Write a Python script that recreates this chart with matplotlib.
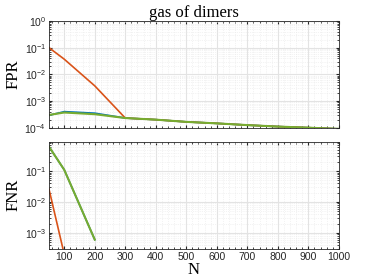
import numpy as np
import matplotlib.pyplot as plt
from matplotlib.ticker import MultipleLocator, LogLocator, NullFormatter

N = [50, 100, 200, 300, 400, 500, 600, 700, 800, 900, 1000]

# false positive rate
fpr_blue = [2.9e-4, 4.0e-4, 3.5e-4, 2.3e-4, 2.0e-4, 1.65e-4, 1.45e-4, 1.25e-4, 1.1e-4, 1.0e-4, 9e-5]
fpr_orange = [1.0e-1, 3.7e-2, 3.7e-3, 2.3e-4, 2.0e-4, 1.65e-4, 1.45e-4, 1.25e-4, 1.1e-4, 1.0e-4, 9e-5]
fpr_green = [3.0e-4, 3.7e-4, 3.2e-4, 2.3e-4, 2.0e-4, 1.65e-4, 1.45e-4, 1.25e-4, 1.1e-4, 1.0e-4, 9e-5]

# false negative rate (zeros are not drawn on a log axis)
fnr_blue = [0.62, 0.11, 6e-4, np.nan, np.nan, np.nan, np.nan, np.nan, np.nan, np.nan, np.nan]
fnr_orange = [0.026, 2e-4, np.nan, np.nan, np.nan, np.nan, np.nan, np.nan, np.nan, np.nan, np.nan]
fnr_green = [0.62, 0.11, 6e-4, np.nan, np.nan, np.nan, np.nan, np.nan, np.nan, np.nan, np.nan]

blue, orange, green = '#0072BD', '#D95319', '#77AC30'
serif = ['Liberation Serif', 'DejaVu Serif']
plt.rcParams['font.family'] = ['Liberation Sans', 'DejaVu Sans']
plt.rcParams['mathtext.fontset'] = 'custom'
plt.rcParams['mathtext.rm'] = 'Liberation Sans'
plt.rcParams['mathtext.it'] = 'Liberation Sans'

fig = plt.figure(figsize=(3.74, 2.80), dpi=100)
ax1 = fig.add_axes([0.131, 0.544, 0.775, 0.381])
ax2 = fig.add_axes([0.131, 0.111, 0.775, 0.383])


def style(ax):
    ax.set_yscale('log')
    ax.set_xlim(50, 1000)
    ax.xaxis.set_major_locator(MultipleLocator(100))
    ax.xaxis.set_minor_locator(MultipleLocator(20))
    ax.yaxis.set_major_locator(LogLocator(base=10, numticks=10))
    ax.yaxis.set_minor_locator(LogLocator(base=10, subs=np.arange(2, 10), numticks=10))
    ax.yaxis.set_minor_formatter(NullFormatter())
    ax.grid(True, which='major', color='#e3e3e3', lw=0.8)
    ax.grid(True, which='minor', color='#e8e8e8', lw=0.5, ls=':')
    ax.tick_params(which='both', direction='in', top=True, right=True,
                   labelsize=7.5, colors='#262626', length=2.5, pad=2)
    ax.tick_params(which='minor', length=1.5)
    for s in ax.spines.values():
        s.set_color('#262626')
        s.set_linewidth(0.6)
    ax.set_axisbelow(True)


style(ax1)
ax1.plot(N, fpr_blue, color=blue, lw=1.2)
ax1.plot(N, fpr_orange, color=orange, lw=1.2)
ax1.plot(N, fpr_green, color=green, lw=1.5)
ax1.set_ylim(1e-4, 1)
ax1.tick_params(labelbottom=False)
ax1.set_ylabel('FPR', family=serif, fontsize=12, labelpad=2)
ax1.set_title('gas of dimers', family=serif, fontsize=12, pad=2)

style(ax2)
ax2.plot(N, fnr_blue, color=blue, lw=1.2)
ax2.plot(N, fnr_orange, color=orange, lw=1.2)
ax2.plot(N, fnr_green, color=green, lw=1.5)
ax2.set_ylim(3e-4, 0.9)
ax2.set_ylabel('FNR', family=serif, fontsize=12, labelpad=2)
ax2.set_xlabel('N', family=serif, fontsize=12, labelpad=0)

fig.savefig('out.png', dpi=100)
